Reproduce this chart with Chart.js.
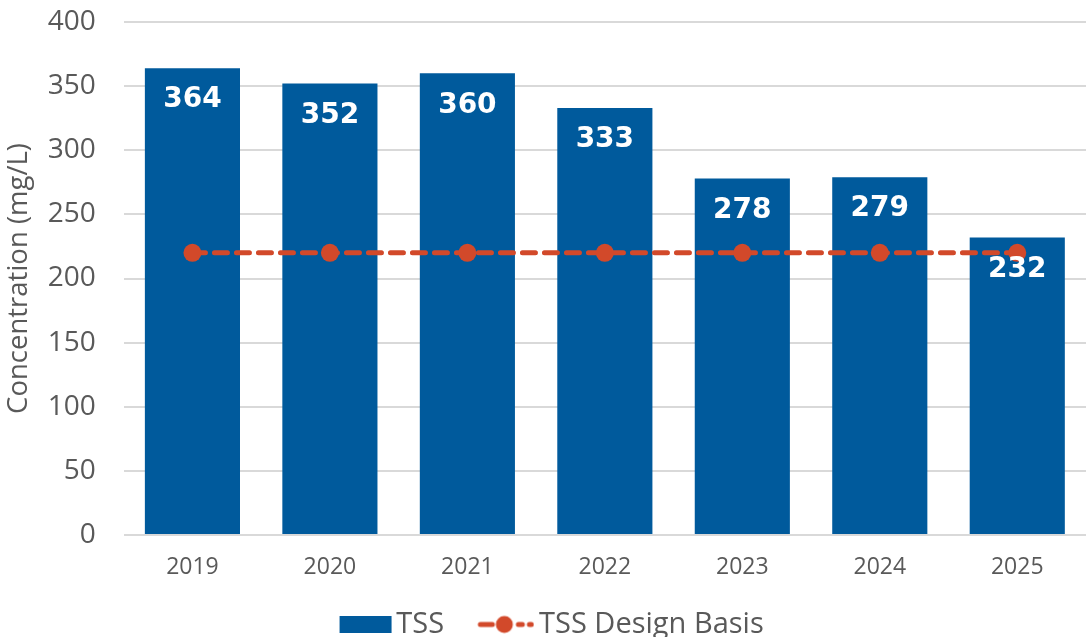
<!DOCTYPE html>
<html><head><meta charset="utf-8">
<script src="https://cdn.jsdelivr.net/npm/chart.js@4/dist/chart.umd.min.js"></script>
<style>html,body{margin:0;padding:0;overflow:hidden;background:#fff}#wrap{width:1095px;height:637px;position:relative}</style>
</head><body><div id="wrap"><canvas id="c"></canvas></div>
<script>
const categories = ['2019','2020','2021','2022','2023','2024','2025'];
const tssValues = [364, 352, 360, 333, 278, 279, 232];
const designBasis = [220, 220, 220, 220, 220, 220, 220];
const yTicks = [0, 50, 100, 150, 200, 250, 300, 350, 400];

const BLUE = '#005A9C', RED = '#D2492A', GREY = '#595959', FONT = '"Open Sans", sans-serif';

function rectIcon(){const c=document.createElement('canvas');c.width=104;c.height=17;const x=c.getContext('2d');x.fillStyle=BLUE;x.fillRect(50,0,52,17);return c;}
function lineIcon(){const c=document.createElement('canvas');c.width=100;c.height=20;const x=c.getContext('2d');x.strokeStyle=RED;x.lineWidth=5;x.lineCap='round';
  const o=43;
  x.beginPath();x.moveTo(o+3,10);x.lineTo(o+15,10);x.stroke();
  x.beginPath();x.moveTo(o+41,10);x.lineTo(o+45,10);x.stroke();
  x.beginPath();x.moveTo(o+52,10);x.lineTo(o+54,10);x.stroke();
  x.fillStyle=RED;x.beginPath();x.arc(o+27,10,8.5,0,Math.PI*2);x.fill();return c;}

const labelPlugin = {
  id:'barLabels',
  afterLayout(chart){
    const lg = chart.legend; if (lg){ lg.left -= 15; lg.right -= 15; lg.top += 12; lg.bottom += 12; }
  },
  afterDatasetsDraw(chart){
    const ctx = chart.ctx; const meta = chart.getDatasetMeta(0);
    ctx.save(); ctx.fillStyle='#fff'; ctx.font='bold 28px "DejaVu Sans", sans-serif'; ctx.textAlign='center'; ctx.textBaseline='middle';
    meta.data.forEach((el,i)=>{ ctx.fillText(String(tssValues[i]), el.x, el.y+32); });
    ctx.restore();
  }
};

new Chart(document.getElementById('c'), {
  data:{labels:categories, datasets:[
    {type:'bar', label:'TSS', data:tssValues, backgroundColor:BLUE, categoryPercentage:1, barPercentage:0.692, order:2},
    {type:'line', label:'TSS Design Basis', data:designBasis, borderColor:RED, backgroundColor:RED, borderWidth:5, borderDash:[13,9], borderCapStyle:'round', pointRadius:9, pointHoverRadius:9, pointBackgroundColor:RED, pointBorderWidth:0, order:1}
  ]},
  options:{
    responsive:true, maintainAspectRatio:false, animation:false,
    layout:{padding:{top:22,right:0,bottom:0,left:0}},
    plugins:{
      tooltip:{enabled:false},
      legend:{position:'bottom', labels:{usePointStyle:true, font:{family:FONT,size:29}, color:GREY, padding:0,
        generateLabels(chart){ return [
          {text:'TSS', pointStyle:rectIcon(), fillStyle:BLUE, strokeStyle:BLUE, lineWidth:0, datasetIndex:0, fontColor:GREY},
          {text:'TSS Design Basis', pointStyle:lineIcon(), fillStyle:RED, strokeStyle:RED, lineWidth:0, datasetIndex:1, fontColor:GREY}
        ]; }, pointStyleWidth:80.5, boxHeight:22}}
    },
    scales:{
      x:{grid:{display:false, drawTicks:false}, border:{display:false}, ticks:{color:GREY, font:{family:FONT,size:23}, padding:19},
         afterFit(s){s.height=63;}},
      y:{min:0,max:400, afterBuildTicks(s){s.ticks=yTicks.map(v=>({value:v}));},
         grid:{color:'#d9d9d9', lineWidth:2, drawTicks:false}, border:{display:false},
         ticks:{color:GREY, font:{family:FONT,size:28}, padding:28},
         title:{display:true, text:'Concentration (mg/L)', color:GREY, font:{family:FONT,size:27.5}, padding:{top:3,bottom:0}},
         afterFit(s){s.width=123.7; s.paddingTop=0; s.paddingBottom=0;}}
    }
  },
  plugins:[labelPlugin]
});
</script></body></html>
